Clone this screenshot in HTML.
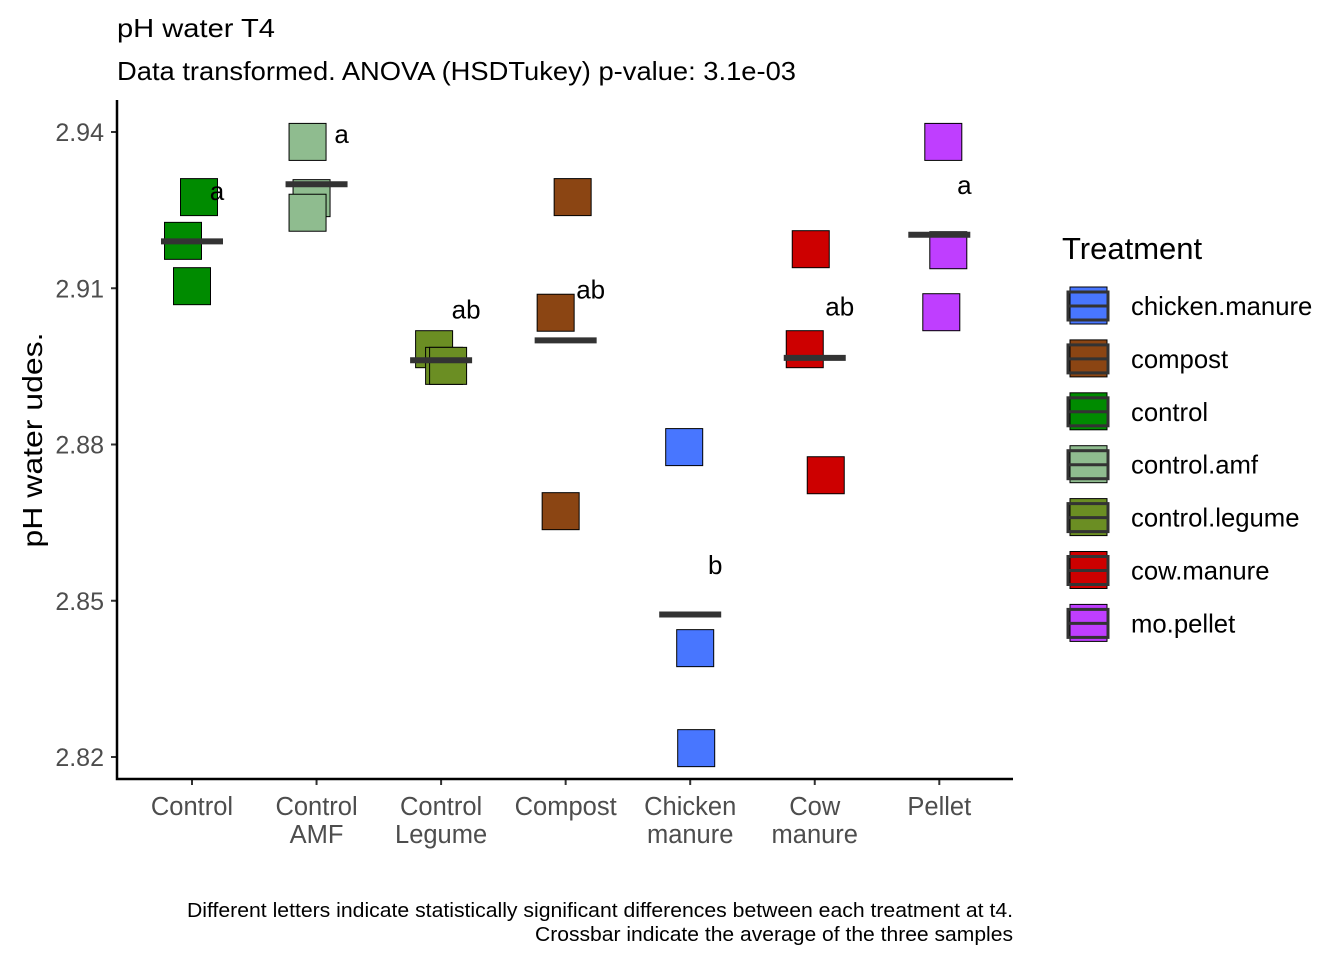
<!DOCTYPE html>
<html><head><meta charset="utf-8"><style>body{margin:0;background:#fff}svg{display:block;font-family:"Liberation Sans",Arial,sans-serif}</style></head>
<body>
<svg id="chart" width="1344" height="960" xmlns="http://www.w3.org/2000/svg">
<text x="117" y="37" font-size="26" textLength="158" lengthAdjust="spacingAndGlyphs" fill="#000">pH water T4</text>
<text x="117" y="80" font-size="26" textLength="679" lengthAdjust="spacingAndGlyphs" fill="#000">Data transformed. ANOVA (HSDTukey) p-value: 3.1e-03</text>
<text transform="translate(42,440) rotate(-90)" text-anchor="middle" font-size="28" textLength="215" lengthAdjust="spacingAndGlyphs" fill="#000">pH water udes.</text>
<text x="1013" y="917" text-anchor="end" font-size="20" textLength="826" lengthAdjust="spacingAndGlyphs">Different letters indicate statistically significant differences between each treatment at t4.</text>
<text x="1013" y="941" text-anchor="end" font-size="20" textLength="478" lengthAdjust="spacingAndGlyphs">Crossbar indicate the average of the three samples</text>
<g id="plot"></g>
<g id="legend"></g>
</svg>
<script>
const categories = ["Control","Control\nAMF","Control\nLegume","Compost","Chicken\nmanure","Cow\nmanure","Pellet"];
const treatments = ["chicken.manure","compost","control","control.amf","control.legume","cow.manure","mo.pellet"];
const catColors = ["#008B00","#8FBC8F","#6B8E23","#8B4513","#4876FF","#CD0000","#BF3EFF"];
const legendColors = ["#4876FF","#8B4513","#008B00","#8FBC8F","#6B8E23","#CD0000","#BF3EFF"];
const values = [[2.9275,2.9191,2.9104],[2.9381,2.9273,2.9245],[2.8983,2.8951,2.8951],[2.9275,2.9053,2.8672],[2.8795,2.8409,2.8217],[2.9175,2.8983,2.8741],[2.9381,2.9173,2.9054]];
const jitter = [[7,-9,0],[-9,-5,-9],[-7,3,7],[7,-10,-5],[-6,5,6],[-4,-10,11],[4,9,2]];
const letters = ["a","a","ab","ab","b","ab","a"];
const letterVals = [2.9285,2.9394,2.9057,2.9096,2.8567,2.9063,2.9296];
const yTicks = [2.82,2.85,2.88,2.91,2.94];

const NS="http://www.w3.org/2000/svg";
const y = v => 757 - (v-2.82)*5208.3;
const x = i => 192 + i*124.55;
const plot=document.getElementById('plot'), legend=document.getElementById('legend');
function mk(tag,attrs,parent){const e=document.createElementNS(NS,tag);for(const k in attrs)e.setAttribute(k,attrs[k]);parent.appendChild(e);return e;}

yTicks.forEach(t=>{
  const tk=mk('line',{x1:111,x2:117,y1:y(t),y2:y(t),stroke:'#333','stroke-width':2},plot);
  
  
  const tl=mk('text',{x:104,y:y(t)+9,'text-anchor':'end','font-size':25,fill:'#4d4d4d'},plot);
  tl.textContent=t.toFixed(2);
  
  
});
categories.forEach((c,i)=>{
  const tk=mk('line',{x1:x(i),x2:x(i),y1:779,y2:785,stroke:'#333','stroke-width':2},plot);
  
  
  c.split("\n").forEach((ln,j)=>{
    const tl=mk('text',{x:x(i),y:815+j*28,'text-anchor':'middle','font-size':25.5,fill:'#4d4d4d'},plot);
    tl.textContent=ln;
    
    
  });
  values[i].forEach((v,k)=>{
    const r=mk('rect',{x:x(i)+jitter[i][k]-18.5,y:y(v)-18.5,width:37,height:37,fill:catColors[i],stroke:'#000','stroke-width':1},plot);
    
    
  });
  const m=(values[i][0]+values[i][1]+values[i][2])/3;
  const cb=mk('line',{x1:x(i)-31,x2:x(i)+31,y1:y(m),y2:y(m),stroke:'#333','stroke-width':6},plot);
  
  
  const lt=mk('text',{x:x(i)+25,y:y(letterVals[i])+8,'text-anchor':'middle','font-size':26,fill:'#000'},plot);
  lt.textContent=letters[i];
  
  
});
const ax=mk('path',{d:'M117,100 V779 H1013',fill:'none',stroke:'#000','stroke-width':2.5},plot);



const lt=mk('text',{x:1062,y:259,'font-size':31,fill:'#000'},legend);
lt.textContent='Treatment';


treatments.forEach((t,i)=>{
  const cy=305+i*52.9;
  const g=mk('g',{},legend);
  
  
  mk('rect',{x:1070,y:cy-18,width:37,height:37,fill:legendColors[i],stroke:'#000','stroke-width':1},g);
  mk('rect',{x:1068,y:cy-13,width:40,height:28,fill:'none',stroke:'#333','stroke-width':3},g);
  mk('line',{x1:1068,x2:1108,y1:cy+1,y2:cy+1,stroke:'#333','stroke-width':3},g);
  const tx=mk('text',{x:1131,y:cy+10,'font-size':25.7,fill:'#000'},g);
  tx.textContent=t;
});
</script>
</body></html>
